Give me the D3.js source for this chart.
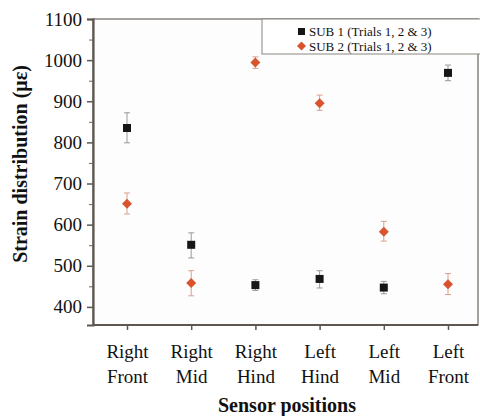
<!DOCTYPE html>
<html>
<head>
<meta charset="utf-8">
<script src="https://cdn.jsdelivr.net/npm/d3@7"></script>
<style>
  body { margin: 0; background: #fff; }
  text { font-family: "Liberation Serif", "Times New Roman", serif; fill: #111; }
</style>
</head>
<body>
<div id="chart"></div>
<script>
// sensor positions, two-line labels
const positions = ['Right Front', 'Right Mid', 'Right Hind', 'Left Hind', 'Left Mid', 'Left Front'];
const yTicks = [400, 500, 600, 700, 800, 900, 1000, 1100];

// mean strain (με) and error bar ends
const sub1 = [835, 551, 453, 468, 447, 969];
const sub1Hi = [872, 580, 466, 488, 462, 988];
const sub1Lo = [799, 519, 440, 446, 432, 950];
const sub2 = [651, 458, 994, 895, 583, 455];
const sub2Hi = [677, 488, 1008, 915, 608, 481];
const sub2Lo = [626, 427, 980, 878, 560, 430];

const legendLabels = ['SUB 1 (Trials 1, 2 & 3)', 'SUB 2 (Trials 1, 2 & 3)'];

const width = 480, height = 416;
const margin = {top: 19, right: 2, bottom: 91, left: 93};
const innerW = width - margin.left - margin.right;
const innerH = height - margin.top - margin.bottom;

const svg = d3.select('#chart')
              .append('svg')
              .attr('width', width)
              .attr('height', height);

const x = d3.scalePoint()
            .domain(positions)
            .range([34, 34 + 64.2 * 5]);
const y = d3.scaleLinear()
            .domain([356, 1100])
            .range([innerH, 0]);

const g = svg.append('g')
             .attr('transform', `translate(${margin.left}, ${margin.top})`);

// frame
g.append('rect')
 .attr('width', innerW)
 .attr('height', innerH)
 .attr('fill', '#fdfdfd')
 .attr('stroke', '#6b6660')
 .attr('stroke-width', 1.2);

// y axis with minor ticks
const minor = d3.range(400, 1100, 50).filter(v => v % 100 !== 0);
g.append('g')
 .call(d3.axisLeft(y).tickValues(minor).tickSize(4).tickFormat(''))
 .call(a => a.select('.domain').remove())
 .selectAll('line').attr('stroke', '#6b6660');
const yAxis = g.append('g')
               .attr('class', 'axis axis-y')
               .call(d3.axisLeft(y).tickValues(yTicks).tickSize(6).tickPadding(5).tickFormat(d3.format('d')));
yAxis.select('.domain').attr('stroke', '#5e5750').attr('stroke-width', 2.2);
yAxis.selectAll('line').attr('stroke', '#5e5750').attr('stroke-width', 1.5);
yAxis.selectAll('text').style('font-size', '19px').attr('fill', '#111');

// x axis
const xAxis = g.append('g')
               .attr('class', 'axis axis-x')
               .attr('transform', `translate(0, ${innerH})`)
               .call(d3.axisBottom(x).tickSize(5).tickFormat(''));
xAxis.select('.domain').remove();
xAxis.selectAll('line').attr('stroke', '#5e5750').attr('stroke-width', 1.5);
g.append('line')
 .attr('x1', 0).attr('x2', innerW)
 .attr('y1', innerH).attr('y2', innerH)
 .attr('stroke', '#5e5750').attr('stroke-width', 2.2);

xAxis.selectAll('.tick')
     .append('text')
     .attr('text-anchor', 'middle')
     .style('font-size', '19px')
     .attr('fill', '#111')
     .selectAll('tspan')
     .data(d => d.split(' '))
     .join('tspan')
     .attr('x', 0)
     .attr('y', (d, i) => 33 + i * 25)
     .text(d => d);

// error bars
function errorBars(lo, hi, color) {
  const eb = g.append('g');
  positions.forEach((p, i) => {
    const cx = x(p);
    eb.append('line')
      .attr('x1', cx).attr('x2', cx)
      .attr('y1', y(lo[i])).attr('y2', y(hi[i]))
      .attr('stroke', color).attr('stroke-width', 1);
    [lo[i], hi[i]].forEach(v => {
      eb.append('line')
        .attr('x1', cx - 3).attr('x2', cx + 3)
        .attr('y1', y(v)).attr('y2', y(v))
        .attr('stroke', color).attr('stroke-width', 1);
    });
  });
}
errorBars(sub1Lo, sub1Hi, '#9a9a9a');
errorBars(sub2Lo, sub2Hi, '#d9a08c');

g.selectAll('.sq')
 .data(sub1)
 .join('rect')
 .attr('class', 'sq')
 .attr('x', (d, i) => x(positions[i]) - 4)
 .attr('y', d => y(d) - 4)
 .attr('width', 8).attr('height', 8)
 .attr('fill', '#161616');

// diamonds as squares turned 45 degrees
const diamond = d3.symbol().type(d3.symbolSquare).size(50);
g.selectAll('.dm')
 .data(sub2)
 .join('path')
 .attr('class', 'dm')
 .attr('d', diamond)
 .attr('transform', (d, i) => `translate(${x(positions[i])}, ${y(d)}) rotate(45)`)
 .attr('fill', '#d9532e');

// legend
const lg = svg.append('g').attr('transform', 'translate(262, 19)');
lg.append('rect')
  .attr('width', 220).attr('height', 35)
  .attr('fill', '#fff')
  .attr('stroke', '#8a8580').attr('stroke-width', 1);
lg.append('rect')
  .attr('x', 36).attr('y', 9).attr('width', 7).attr('height', 7)
  .attr('fill', '#161616');
lg.append('path')
  .attr('d', d3.symbol().type(d3.symbolSquare).size(40))
  .attr('transform', 'translate(39.5, 27) rotate(45)')
  .attr('fill', '#d9532e');
lg.selectAll('.lt')
  .data(legendLabels)
  .join('text')
  .attr('class', 'lt')
  .attr('x', 47)
  .attr('y', (d, i) => 17 + i * 14.5)
  .style('font-size', '13px')
  .text(d => d);

// axis titles
svg.append('text')
   .attr('x', margin.left + 194)
   .attr('y', 412)
   .attr('text-anchor', 'middle')
   .style('font-size', '20px')
   .style('font-weight', 'bold')
   .text('Sensor positions');
svg.append('text')
   .attr('transform', 'translate(27, 164) rotate(-90)')
   .attr('text-anchor', 'middle')
   .style('font-size', '20px')
   .style('font-weight', 'bold')
   .text('Strain distribution (με)');
</script>
</body>
</html>
